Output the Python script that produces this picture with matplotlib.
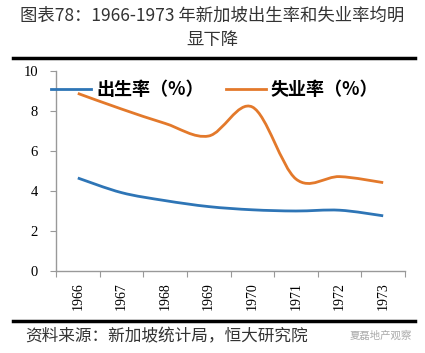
import matplotlib
matplotlib.use("Agg")
import matplotlib.pyplot as plt
import numpy as np
from matplotlib.path import Path
from matplotlib.patches import PathPatch
from matplotlib.lines import Line2D

plt.rcParams['font.family'] = ['Noto Sans CJK SC', 'DejaVu Sans']

years = ['1966', '1967', '1968', '1969', '1970', '1971', '1972', '1973']
birth_rate = [4.65, 3.92, 3.52, 3.22, 3.06, 3.0, 3.04, 2.76]
unemployment = [8.88, 8.1, 7.38, 6.75, 8.2, 4.6, 4.72, 4.42]
series_names = ['出生率（%）', '失业率（%）']
colors = ['#2E75B6', '#E3792B']
title = '图表78：1966-1973 年新加坡出生率和失业率均明\n显下降'
source = '资料来源：新加坡统计局，恒大研究院'
watermark = '夏磊地产观察'

W, H = 425, 353
fig = plt.figure(figsize=(W / 100, H / 100), dpi=100)
ax = fig.add_axes([56 / W, 1 - 271 / H, (405 - 56) / W, 200 / H])


def smooth_path(xs, ys, tension=0.5):
    xs = np.asarray(xs, float)
    ys = np.asarray(ys, float)
    n = len(xs)
    verts = [(xs[0], ys[0])]
    codes = [Path.MOVETO]
    for i in range(n - 1):
        p0 = np.array([xs[max(i - 1, 0)], ys[max(i - 1, 0)]])
        p1 = np.array([xs[i], ys[i]])
        p2 = np.array([xs[i + 1], ys[i + 1]])
        p3 = np.array([xs[min(i + 2, n - 1)], ys[min(i + 2, n - 1)]])
        c1 = p1 + (p2 - p0) * tension / 3
        c2 = p2 - (p3 - p1) * tension / 3
        verts += [tuple(c1), tuple(c2), tuple(p2)]
        codes += [Path.CURVE4] * 3
    return Path(verts, codes)


x = np.arange(len(years))
for vals, col in zip([birth_rate, unemployment], colors):
    patch = PathPatch(smooth_path(x, vals, 0.5), facecolor='none', edgecolor=col,
                      lw=2.0, capstyle='butt', joinstyle='round')
    ax.add_patch(patch)

ax.set_xlim(-0.5, len(years) - 0.5)
ax.set_ylim(0, 10)
ax.set_yticks([0, 2, 4, 6, 8, 10])
ax.set_xticks(np.arange(-0.5, len(years), 1.0))
ax.set_xticklabels([])
ax.set_xticks(x, minor=True)
ax.set_xticklabels(years, minor=True, rotation=90, family='Liberation Serif', fontsize=10)
ax.tick_params(axis='x', which='minor', length=0, pad=8)
ax.tick_params(axis='x', which='major', length=4, color='#999999', direction='out')
ax.tick_params(axis='y', length=4, color='#999999', pad=9, labelsize=10.5)
for lab in ax.get_yticklabels():
    lab.set_family('Liberation Serif')
for s in ['top', 'right']:
    ax.spines[s].set_visible(False)
for s in ['left', 'bottom']:
    ax.spines[s].set_color('#999999')
    ax.spines[s].set_linewidth(1.0)

handles = [Line2D([], [], color=c, lw=2.0) for c in colors]
leg1 = ax.legend([handles[0]], [series_names[0]], loc='upper left',
                 bbox_to_anchor=(-0.06, 1.035), frameon=False, handlelength=2.2,
                 handletextpad=0.3, prop={'weight': 'bold', 'size': 13})
ax.add_artist(leg1)
ax.legend([handles[1]], [series_names[1]], loc='upper left',
          bbox_to_anchor=(0.44, 1.035), frameon=False, handlelength=2.2,
          handletextpad=0.3, prop={'weight': 'bold', 'size': 13})

fig.text(0.5, 1 - 28 / H, title, ha='center', va='center', fontsize=12.5,
         color='#333333', linespacing=1.45)
fig.add_artist(Line2D([13 / W, 415 / W], [1 - 58 / H, 1 - 58 / H], color='black', lw=2.5))
fig.add_artist(Line2D([13 / W, 415 / W], [1 - 321 / H, 1 - 321 / H], color='black', lw=2.5))
fig.text(25 / W, 1 - 337 / H, source, ha='left', va='center', fontsize=12,
         color='#333333', style='italic')
fig.text(412 / W, 1 - 336 / H, watermark, ha='right', va='center', fontsize=7.5,
         color='#aaaaaa')

fig.savefig('out.png', dpi=100)
